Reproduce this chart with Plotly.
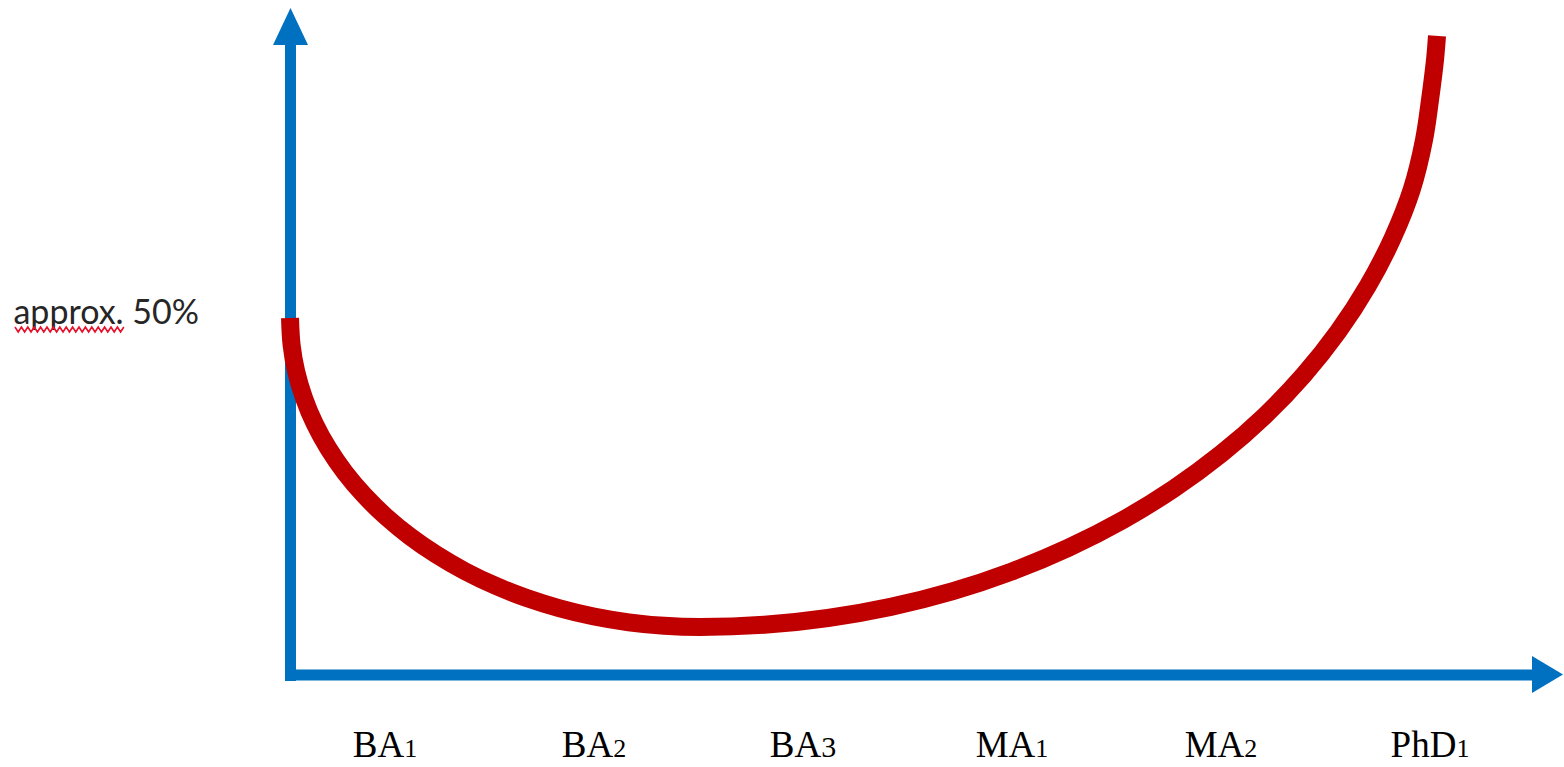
import plotly.graph_objects as go

# ---- data ----
categories = ["BA1", "BA2", "BA3", "MA1", "MA2", "PhD1"]
cat_pos = [1, 2, 3, 4, 5, 6]
curve_x = [0.5455, 0.5531, 0.5751, 0.6124, 0.6636, 0.7292, 0.8081, 0.9000, 1.0043,
           1.1201, 1.2464, 1.3818, 1.5263, 1.6780, 1.8364, 1.9995, 2.1665, 2.3359,
           2.5072, 2.8148, 3.1196, 3.4196, 3.7134, 3.9976, 4.2703, 4.5297, 4.7737,
           5.0005, 5.2086, 5.3957, 5.5608, 5.7029, 5.8211, 5.9134, 5.9713, 6.0000,
           6.0239, 6.0335]
curve_y = [50.00, 46.23, 42.49, 38.80, 35.20, 31.71, 28.36, 25.18, 22.18,
           19.40, 16.85, 14.55, 12.52, 10.78, 9.33, 8.19, 7.38, 6.89,
           6.72, 7.03, 7.98, 9.54, 11.71, 14.48, 17.82, 21.69, 26.09,
           30.97, 36.29, 42.02, 48.11, 54.51, 61.19, 68.07, 74.93, 80.53,
           86.13, 89.50]
y_tick_vals = [50]
y_tick_text = ["approx. 50%"]

# ---- layout geometry (pixels) ----
W, H = 1564, 767
L, B = 250, 92
plot_w, plot_h = W - L, H - B
X0PX, XSTEP = 385, 209      # pixel of category 1, pixels per category
YPX_PER = 7.14              # pixels per percent


def x_at(px):
    return 1 + (px - X0PX) / XSTEP


def px_x(px):
    return (px - L) / plot_w


def px_y(py):
    return (plot_h - py) / plot_h


BLUE = "#0070C0"
RED = "#C00000"


def label_html(s):
    head = s.rstrip("0123456789")
    digits = s[len(head):]
    size = 30 if digits == "3" else 26
    return f"{head}<span style='font-size:{size}px'>{digits}</span>"


fig = go.Figure()
fig.add_trace(go.Scatter(
    x=curve_x, y=curve_y, mode="lines",
    line=dict(color=RED, width=18, shape="spline", smoothing=1.0),
    hoverinfo="skip", showlegend=False,
))

shapes = []
# y axis shaft + head
shapes.append(dict(type="line", xref="paper", yref="paper",
                   x0=px_x(290.5), x1=px_x(290.5), y0=px_y(681), y1=px_y(44),
                   line=dict(color=BLUE, width=11), layer="below"))
shapes.append(dict(type="path", xref="paper", yref="paper",
                   path=f"M {px_x(273)} {px_y(45)} L {px_x(308)} {px_y(45)} L {px_x(290.5)} {px_y(8)} Z",
                   fillcolor=BLUE, line=dict(width=0), layer="below"))
# x axis shaft + head
shapes.append(dict(type="line", xref="paper", yref="paper",
                   x0=px_x(285), x1=px_x(1533), y0=px_y(675), y1=px_y(675),
                   line=dict(color=BLUE, width=11), layer="below"))
shapes.append(dict(type="path", xref="paper", yref="paper",
                   path=f"M {px_x(1532)} {px_y(656)} L {px_x(1532)} {px_y(693)} L {px_x(1563)} {px_y(674.5)} Z",
                   fillcolor=BLUE, line=dict(width=0), layer="below"))
# spell-check squiggle under "approx."
pts = []
xx = 15.0
k = 0
while xx <= 127:
    pts.append((xx, 327 if k % 2 == 0 else 332))
    xx += 3.2
    k += 1
path = "M " + " L ".join(f"{px_x(a)} {px_y(b)}" for a, b in pts)
shapes.append(dict(type="path", xref="paper", yref="paper", path=path,
                   line=dict(color="#E8102A", width=1.6), layer="above"))

fig.update_layout(
    width=W, height=H,
    margin=dict(l=L, r=0, t=0, b=B, pad=0),
    paper_bgcolor="white", plot_bgcolor="white",
    showlegend=False,
    shapes=shapes,
    xaxis=dict(range=[x_at(L), x_at(W)], showgrid=False, zeroline=False,
               showline=False, ticks="", tickvals=cat_pos,
               ticktext=[label_html(c) for c in categories],
               tickfont=dict(family="Liberation Serif", size=37, color="#000000"),
               ticklabelstandoff=44, fixedrange=True),
    yaxis=dict(range=[0, plot_h / YPX_PER], showgrid=False, zeroline=False,
               showline=False, ticks="", tickvals=y_tick_vals, ticktext=y_tick_text,
               tickfont=dict(family="Lato", size=34, color="#262626"),
               ticklabelstandoff=50, ticklabelshift=-6, fixedrange=True),
)

fig.write_html("out.html", config={"displayModeBar": False},
               post_script="document.body.style.margin='0px';")
